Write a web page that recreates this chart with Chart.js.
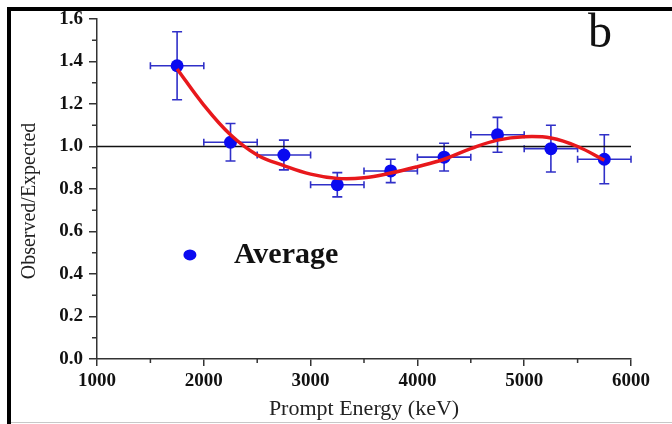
<!DOCTYPE html>
<html>
<head>
<meta charset="utf-8">
<script src="https://cdn.jsdelivr.net/npm/chart.js@4"></script>
<style>
  html, body { margin: 0; padding: 0; background: #fff; }
  #wrap { width: 672px; height: 424px; position: relative; }
</style>
</head>
<body>
<div id="wrap"><canvas id="ratioChart" width="672" height="424"></canvas></div>
<script>
// measured points (bin centres) with error bars
const energy = [1750, 2250, 2750, 3250, 3750, 4250, 4750, 5250, 5750];
const ratio = [1.38, 1.02, 0.96, 0.82, 0.885, 0.95, 1.055, 0.99, 0.94];
const ratioErr = [0.16, 0.088, 0.07, 0.057, 0.055, 0.065, 0.082, 0.11, 0.115];
const energyErr = [250, 250, 250, 250, 250, 250, 250, 250, 250];

// red fit curve
const fitEnergy = [1750, 2000, 2250, 2500, 2750, 3000, 3250, 3500, 3750, 4000, 4250, 4500, 4750, 5000, 5250, 5500, 5750];
const fitRatio = [1.365, 1.195, 1.055, 0.96, 0.91, 0.87, 0.85, 0.853, 0.875, 0.905, 0.94, 0.99, 1.03, 1.046, 1.04, 1.0, 0.935];

// reference line at 1.0
const refEnergy = [1000, 6000];
const refRatio = [1.0, 1.0];

// minor tick positions
const xMinor = [1500, 2500, 3500, 4500, 5500];
const yMinor = [0.1, 0.3, 0.5, 0.7, 0.9, 1.1, 1.3, 1.5];

const serif = "'Liberation Serif', 'DejaVu Serif', serif";
const blue = '#0a0af0';
const barBlue = '#3030c8';

const pts = (xs, ys) => xs.map((x, i) => ({ x: x, y: ys[i] }));

// frame, axis title, "b" label and legend
const decorations = {
    id: 'decorations',
    beforeDraw(chart) {
        const ctx = chart.ctx;
        ctx.save();
        ctx.fillStyle = '#fff';
        ctx.fillRect(0, 0, chart.width, chart.height);
        ctx.fillStyle = '#000';
        ctx.fillRect(7, 7, 4, chart.height - 7);
        ctx.fillRect(7, 7, chart.width - 7, 4);
        ctx.fillStyle = '#c8c8c8';
        ctx.fillRect(11, chart.height - 2, chart.width - 11, 1);
        ctx.restore();
    },
    afterDraw(chart) {
        const ctx = chart.ctx;
        const xs = chart.scales.x, ys = chart.scales.y;
        ctx.save();
        // y axis title, sits a little below the middle
        ctx.save();
        ctx.translate(30, 201);
        ctx.rotate(-Math.PI / 2);
        ctx.fillStyle = '#222';
        ctx.font = '20px ' + serif;
        ctx.textAlign = 'center';
        ctx.textBaseline = 'middle';
        ctx.fillText('Observed/Expected', 0, 0);
        ctx.restore();
        // panel letter
        ctx.fillStyle = '#111';
        ctx.font = '48px ' + serif;
        ctx.textBaseline = 'alphabetic';
        ctx.fillText('b', 588, 47);
        // legend
        const lx = xs.getPixelForValue(1870);
        const ly = ys.getPixelForValue(0.49);
        ctx.fillStyle = blue;
        ctx.beginPath();
        ctx.ellipse(lx, ly, 6.5, 5.5, 0, 0, Math.PI * 2);
        ctx.fill();
        ctx.fillStyle = '#111';
        ctx.font = 'bold 30px ' + serif;
        ctx.textBaseline = 'middle';
        ctx.fillText('Average', lx + 44, ly);
        // minor ticks
        ctx.strokeStyle = '#333';
        ctx.lineWidth = 1.5;
        ctx.beginPath();
        xMinor.forEach(v => {
            const px = xs.getPixelForValue(v);
            ctx.moveTo(px, ys.bottom);
            ctx.lineTo(px, ys.bottom + 4);
        });
        yMinor.forEach(v => {
            const py = ys.getPixelForValue(v);
            ctx.moveTo(xs.left, py);
            ctx.lineTo(xs.left - 5, py);
        });
        ctx.stroke();
        ctx.restore();
    }
};

// horizontal and vertical error bars with caps
const errorBars = {
    id: 'errorBars',
    beforeDatasetsDraw(chart) {
        const ctx = chart.ctx;
        const xs = chart.scales.x, ys = chart.scales.y;
        ctx.save();
        ctx.strokeStyle = barBlue;
        ctx.lineWidth = 1.6;
        ctx.beginPath();
        energy.forEach((e, i) => {
            const cx = xs.getPixelForValue(e);
            const cy = ys.getPixelForValue(ratio[i]);
            const top = ys.getPixelForValue(ratio[i] + ratioErr[i]);
            const bot = ys.getPixelForValue(ratio[i] - ratioErr[i]);
            const l = xs.getPixelForValue(e - energyErr[i]);
            const r = xs.getPixelForValue(e + energyErr[i]);
            ctx.moveTo(cx, top); ctx.lineTo(cx, bot);
            ctx.moveTo(cx - 5, top); ctx.lineTo(cx + 5, top);
            ctx.moveTo(cx - 5, bot); ctx.lineTo(cx + 5, bot);
            ctx.moveTo(l, cy); ctx.lineTo(r, cy);
            ctx.moveTo(l, cy - 3.5); ctx.lineTo(l, cy + 3.5);
            ctx.moveTo(r, cy - 3.5); ctx.lineTo(r, cy + 3.5);
        });
        ctx.stroke();
        ctx.restore();
    }
};

new Chart(document.getElementById('ratioChart'), {
    type: 'scatter',
    data: {
        datasets: [
            {
                label: 'Fit',
                data: pts(fitEnergy, fitRatio),
                showLine: true,
                borderColor: '#e8181c',
                borderWidth: 3.5,
                pointRadius: 0,
                tension: 0.4,
                fill: false
            },
            {
                label: 'Average',
                data: pts(energy, ratio),
                backgroundColor: blue,
                borderColor: blue,
                pointRadius: 6.5,
                pointBorderWidth: 0
            },
            {
                label: 'Reference',
                data: pts(refEnergy, refRatio),
                showLine: true,
                borderColor: '#111',
                borderWidth: 1.5,
                pointRadius: 0
            }
        ]
    },
    options: {
        responsive: false,
        animation: false,
        layout: { padding: { left: 0, top: 19, right: 41, bottom: 0 } },
        plugins: {
            legend: { display: false },
            tooltip: { enabled: false }
        },
        scales: {
            x: {
                type: 'linear',
                min: 1000,
                max: 6000,
                afterFit(scale) { scale.height = 65; },
                ticks: {
                    stepSize: 1000,
                    color: '#111',
                    padding: 4,
                    font: { family: serif, size: 19, weight: 'bold' },
                    callback: v => String(v)
                },
                grid: { drawOnChartArea: false, tickLength: 7, color: '#333', lineWidth: 1.5 },
                border: { color: '#333', width: 1.5 },
                title: {
                    display: true,
                    text: 'Prompt Energy (keV)',
                    color: '#222',
                    padding: { top: 0, bottom: 2 },
                    font: { family: serif, size: 22 }
                }
            },
            y: {
                min: 0,
                max: 1.6,
                afterFit(scale) { scale.width = 97; },
                ticks: {
                    stepSize: 0.2,
                    color: '#111',
                    padding: 6,
                    font: { family: serif, size: 19, weight: 'bold' },
                    callback: v => v.toFixed(1)
                },
                grid: { drawOnChartArea: false, tickLength: 8, color: '#333', lineWidth: 1.5 },
                border: { color: '#333', width: 1.5 }
            }
        }
    },
    plugins: [decorations, errorBars]
});
</script>
</body>
</html>
